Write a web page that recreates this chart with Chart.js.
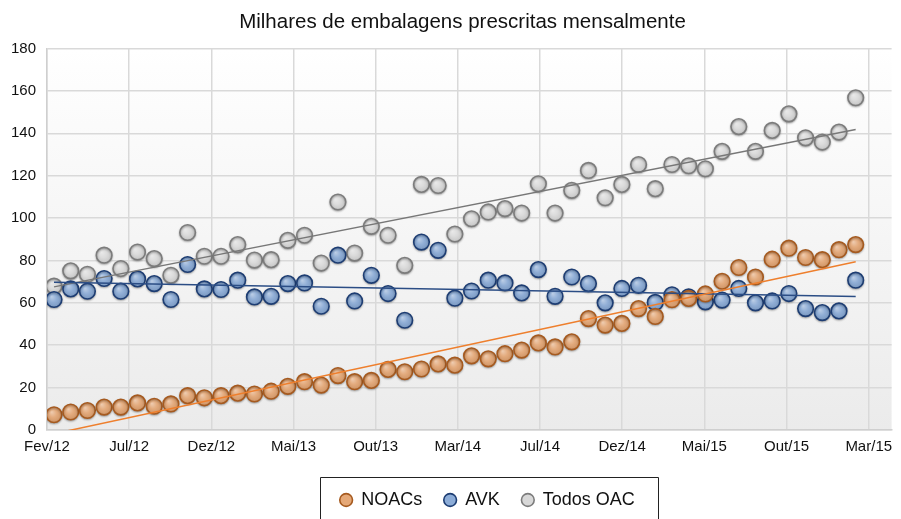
<!DOCTYPE html>
<html>
<head>
<meta charset="utf-8">
<script src="https://cdn.jsdelivr.net/npm/chart.js@4.4.1/dist/chart.umd.min.js"></script>
<style>
  html, body { margin: 0; padding: 0; background: #fff; }
</style>
</head>
<body>
<canvas id="chart" width="901" height="519"></canvas>
<script>
// tick labels as printed on the original axis
const tickLabels = ['Fev/12', 'Jul/12', 'Dez/12', 'Mai/13', 'Out/13', 'Mar/14', 'Jul/14', 'Dez/14', 'Mai/15', 'Out/15', 'Mar/15'];

// monthly values, Feb 2012 .. Feb 2016 (thousands of packs)
const noacs = [7.2, 8.5, 9.2, 10.8, 10.8, 12.8, 11.2, 12.3, 16.2, 15.2,
    16.2, 17.4, 17.0, 18.3, 20.6, 22.8, 21.2, 25.7, 22.8, 23.4,
    28.6, 27.5, 28.8, 31.2, 30.6, 35.0, 33.6, 36.0, 37.7, 41.1,
    39.2, 41.6, 52.6, 49.5, 50.3, 57.3, 53.6, 61.5, 62.1, 64.2,
    70.2, 76.7, 72.2, 80.6, 85.8, 81.4, 80.4, 85.1, 87.5];
const avk = [61.6, 66.6, 65.5, 71.5, 65.5, 71.3, 69.1, 61.6, 78.1, 66.6,
    66.3, 70.7, 62.8, 63.1, 69.1, 69.4, 58.4, 82.5, 60.9, 73.0,
    64.4, 51.8, 88.7, 84.8, 62.2, 65.6, 70.7, 69.4, 64.7, 75.7,
    63.1, 72.2, 69.1, 60.0, 66.8, 68.3, 60.2, 63.8, 62.8, 60.5,
    61.3, 66.8, 60.0, 60.9, 64.4, 57.3, 55.4, 56.2, 70.7];
const todosOac = [67.9, 75.1, 73.5, 82.5, 76.2, 84.0, 80.9, 73.0, 93.2, 82.0,
    82.0, 87.5, 80.2, 80.4, 89.5, 91.9, 78.8, 107.6, 83.5, 96.1,
    91.9, 77.7, 115.9, 115.4, 92.5, 99.7, 102.9, 104.5, 102.4, 116.2,
    102.4, 113.1, 122.5, 109.6, 115.9, 125.3, 113.9, 125.3, 124.7, 123.3,
    131.5, 143.2, 131.5, 141.4, 149.2, 137.9, 135.9, 140.6, 156.8];

const seriesNames = ['NOACs', 'AVK', 'Todos OAC'];

const chartFont = '"Liberation Sans", Arial, Helvetica, sans-serif';
const xMin = -0.42;
const xMax = 50.15;
const tickStep = 4.92;

(function(){
    const ctx = document.getElementById('chart').getContext('2d');

    function toPoints(values) {
        return values.map((v, i) => ({x: i, y: v}));
    }

    // least squares trend line over the month index
    function linearFit(values) {
        const n = values.length;
        let sx = 0, sy = 0, sxx = 0, sxy = 0;
        values.forEach((v, i) => {
            sx += i; sy += v; sxx += i * i; sxy += i * v;
        });
        const slope = (n * sxy - sx * sy) / (n * sxx - sx * sx);
        const intercept = (sy - slope * sx) / n;
        return [{x: 0, y: intercept}, {x: n - 1, y: intercept + slope * (n - 1)}];
    }

    function scatterSet(label, values, fill, border) {
        return {
            label: label,
            data: toPoints(values),
            showLine: false,
            pointRadius: 7.8,
            pointHoverRadius: 7.8,
            pointBorderWidth: 1.6,
            backgroundColor: fill,
            borderColor: border,
            pointBackgroundColor: fill,
            pointBorderColor: border
        };
    }

    function trendSet(values, color) {
        return {
            label: 'trend',
            data: linearFit(values),
            borderColor: color,
            borderWidth: 1.5,
            pointRadius: 0,
            fill: false,
            order: -1
        };
    }

    const plotBackground = {
        id: 'plotBackground',
        beforeDraw(chart) {
            const {ctx, chartArea: a} = chart;
            const g = ctx.createLinearGradient(0, a.top, 0, a.bottom);
            g.addColorStop(0, '#ffffff');
            g.addColorStop(1, '#ebebeb');
            ctx.save();
            ctx.fillStyle = g;
            ctx.fillRect(a.left, a.top, a.right - a.left, a.bottom - a.top);
            ctx.restore();
        }
    };

    // soft shadow + glossy highlight on the markers
    const glossyPoints = {
        id: 'glossyPoints',
        beforeDatasetDraw(chart, args) {
            if (args.index > 2) return;
            const c = chart.ctx;
            c.shadowColor = 'rgba(0,0,0,0.28)';
            c.shadowBlur = 2;
            c.shadowOffsetY = 1;
        },
        afterDatasetDraw(chart, args) {
            const c = chart.ctx;
            c.shadowColor = 'rgba(0,0,0,0)';
            c.shadowBlur = 0;
            c.shadowOffsetY = 0;
            if (args.index > 2) return;
            c.save();
            args.meta.data.forEach(function(el) {
                const r = el.options.radius - 0.8;
                const g = c.createRadialGradient(el.x - r * 0.35, el.y - r * 0.4, 0, el.x, el.y, r);
                g.addColorStop(0, 'rgba(255,255,255,0.45)');
                g.addColorStop(0.55, 'rgba(255,255,255,0.08)');
                g.addColorStop(1, 'rgba(0,0,0,0.06)');
                c.fillStyle = g;
                c.beginPath();
                c.arc(el.x, el.y, r, 0, Math.PI * 2);
                c.fill();
            });
            c.restore();
        }
    };

    // title and legend sit a bit right of centre; legend gets a frame
    const legendFrame = {
        id: 'legendFrame',
        afterLayout(chart) {
            chart.titleBlock.left += 10;
            chart.titleBlock.right += 10;
            chart.legend.left += 35;
            chart.legend.right += 35;
        },
        afterDraw(chart) {
            const boxes = chart.legend.legendHitBoxes;
            if (!boxes || !boxes.length) return;
            const first = boxes[0];
            const last = boxes[boxes.length - 1];
            const c = chart.ctx;
            c.save();
            c.strokeStyle = '#222';
            c.lineWidth = 1;
            const left = Math.round(first.left - 20) + 0.5;
            const right = Math.round(last.left + last.width + 23) + 0.5;
            const top = Math.round(first.top - 14) + 0.5;
            c.beginPath();
            c.moveTo(left, chart.height + 5);
            c.lineTo(left, top);
            c.lineTo(right, top);
            c.lineTo(right, chart.height + 5);
            c.stroke();
            c.restore();
        }
    };

    const config = {
        type: 'line',
        data: {
            datasets: [
                scatterSet(seriesNames[0], noacs, 'rgba(228,163,112,0.95)', '#a65a1f'),
                scatterSet(seriesNames[1], avk, 'rgba(134,168,213,0.95)', '#1d3d73'),
                scatterSet(seriesNames[2], todosOac, '#d8d8d8', '#7c7c7c'),
                trendSet(noacs, '#ee7f2d'),
                trendSet(avk, '#2b4d85'),
                trendSet(todosOac, '#777777')
            ]
        },
        options: {
            responsive: false,
            animation: false,
            layout: {
                padding: {left: 8, right: 4, top: 0, bottom: 0}
            },
            plugins: {
                title: {
                    display: true,
                    text: 'Milhares de embalagens prescritas mensalmente',
                    color: '#111',
                    font: {family: chartFont, size: 20.5, weight: 'normal'},
                    padding: {top: 10, bottom: 14}
                },
                legend: {
                    position: 'bottom',
                    labels: {
                        usePointStyle: true,
                        pointStyle: 'circle',
                        boxWidth: 12,
                        boxHeight: 9,
                        padding: 22,
                        color: '#111',
                        font: {family: chartFont, size: 18},
                        filter: (item) => item.datasetIndex < 3
                    }
                },
                tooltip: {enabled: false}
            },
            scales: {
                x: {
                    type: 'linear',
                    min: xMin,
                    max: xMax,
                    afterBuildTicks(scale) {
                        scale.ticks = tickLabels.map((l, k) => ({value: xMin + k * tickStep}));
                    },
                    afterFit(scale) {
                        scale.height = 39;
                    },
                    grid: {
                        color: '#d9d9d9',
                        lineWidth: 1.5,
                        drawTicks: false
                    },
                    border: {color: '#cfcfcf', width: 1.5},
                    ticks: {
                        padding: 8,
                        maxRotation: 0,
                        autoSkip: false,
                        color: '#111',
                        font: {family: chartFont, size: 15},
                        callback: (value, index) => tickLabels[index]
                    }
                },
                y: {
                    min: 0,
                    max: 180,
                    afterFit(scale) {
                        scale.width = 39;
                    },
                    grid: {
                        color: '#d9d9d9',
                        lineWidth: 1.5,
                        drawTicks: false
                    },
                    border: {color: '#cfcfcf', width: 1.5},
                    ticks: {
                        stepSize: 20,
                        padding: 11,
                        color: '#111',
                        font: {family: chartFont, size: 15}
                    }
                }
            }
        },
        plugins: [plotBackground, glossyPoints, legendFrame]
    };

    new Chart(ctx, config);
})();
</script>
</body>
</html>
